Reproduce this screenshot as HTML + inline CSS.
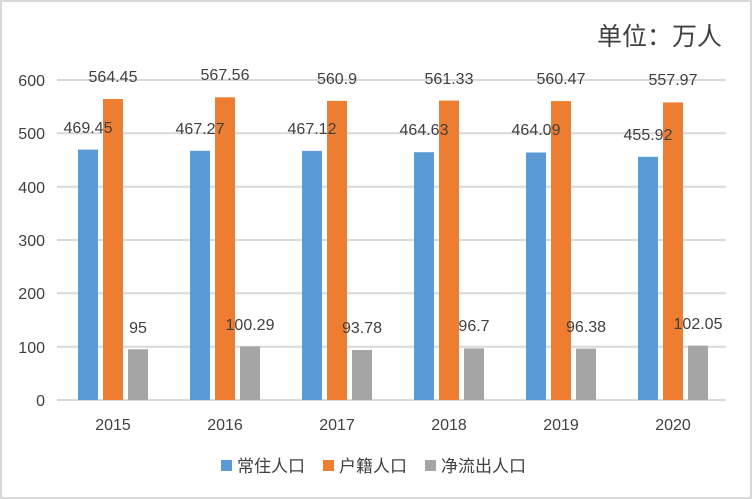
<!DOCTYPE html>
<html><head><meta charset="utf-8"><style>
body{margin:0;background:#fff}
svg{display:block}
text{font-family:"Liberation Sans","Noto Sans CJK SC",sans-serif;fill:#404040}
</style></head><body>
<svg width="752" height="499" viewBox="0 0 752 499">
<rect x="1" y="1" width="750" height="497" fill="#fff" stroke="#d9d9d9" stroke-width="2"/>
<text x="722" y="45" font-size="25" text-anchor="end" fill="#595959">单位：万人</text>
<g stroke="#d9d9d9" stroke-width="2">
<line x1="57" x2="726" y1="80" y2="80"/><line x1="57" x2="726" y1="133.3" y2="133.3"/>
<line x1="57" x2="726" y1="186.7" y2="186.7"/><line x1="57" x2="726" y1="240" y2="240"/>
<line x1="57" x2="726" y1="293.3" y2="293.3"/><line x1="57" x2="726" y1="346.7" y2="346.7"/>
<line x1="57" x2="726" y1="400" y2="400"/>
</g>
<g font-size="16" text-anchor="end">
<text x="45" y="86">600</text><text x="45" y="139">500</text><text x="45" y="193">400</text>
<text x="45" y="246">300</text><text x="45" y="299">200</text><text x="45" y="353">100</text><text x="45" y="406">0</text>
</g>
<g fill="#5b9bd5">
<rect x="78" y="149.6" width="20" height="250.4"/><rect x="190" y="150.8" width="20" height="249.2"/>
<rect x="302" y="150.9" width="20" height="249.1"/><rect x="414" y="152.2" width="20" height="247.8"/>
<rect x="526" y="152.5" width="20" height="247.5"/><rect x="638" y="156.8" width="20" height="243.2"/>
</g>
<g fill="#ed7d31">
<rect x="103" y="99" width="20" height="301"/><rect x="215" y="97.3" width="20" height="302.7"/>
<rect x="327" y="100.9" width="20" height="299.1"/><rect x="439" y="100.6" width="20" height="299.4"/>
<rect x="551" y="101.1" width="20" height="298.9"/><rect x="663" y="102.4" width="20" height="297.6"/>
</g>
<g fill="#a5a5a5">
<rect x="128" y="349.3" width="20" height="50.7"/><rect x="240" y="346.5" width="20" height="53.5"/>
<rect x="352" y="350" width="20" height="50"/><rect x="464" y="348.4" width="20" height="51.6"/>
<rect x="576" y="348.6" width="20" height="51.4"/><rect x="688" y="345.6" width="20" height="54.4"/>
</g>
<g font-size="16" text-anchor="middle">
<text x="88" y="133">469.45</text><text x="200" y="134">467.27</text><text x="312" y="134">467.12</text>
<text x="424" y="135">464.63</text><text x="536" y="135">464.09</text><text x="648" y="140">455.92</text>
<text x="113" y="82">564.45</text><text x="225" y="80">567.56</text><text x="337" y="84">560.9</text>
<text x="449" y="84">561.33</text><text x="561" y="84">560.47</text><text x="673" y="85">557.97</text>
<text x="138" y="333">95</text><text x="250" y="330">100.29</text><text x="362" y="333">93.78</text>
<text x="474" y="331">96.7</text><text x="586" y="332">96.38</text><text x="698" y="329">102.05</text>
<text x="113" y="430">2015</text><text x="225" y="430">2016</text><text x="337" y="430">2017</text>
<text x="449" y="430">2018</text><text x="561" y="430">2019</text><text x="673" y="430">2020</text>
</g>
<g font-size="17">
<rect x="221" y="460" width="11" height="11" fill="#5b9bd5"/><text x="237" y="472">常住人口</text>
<rect x="323" y="460" width="11" height="11" fill="#ed7d31"/><text x="339" y="472">户籍人口</text>
<rect x="425" y="460" width="11" height="11" fill="#a5a5a5"/><text x="441" y="472">净流出人口</text>
</g>
</svg>
</body></html>
